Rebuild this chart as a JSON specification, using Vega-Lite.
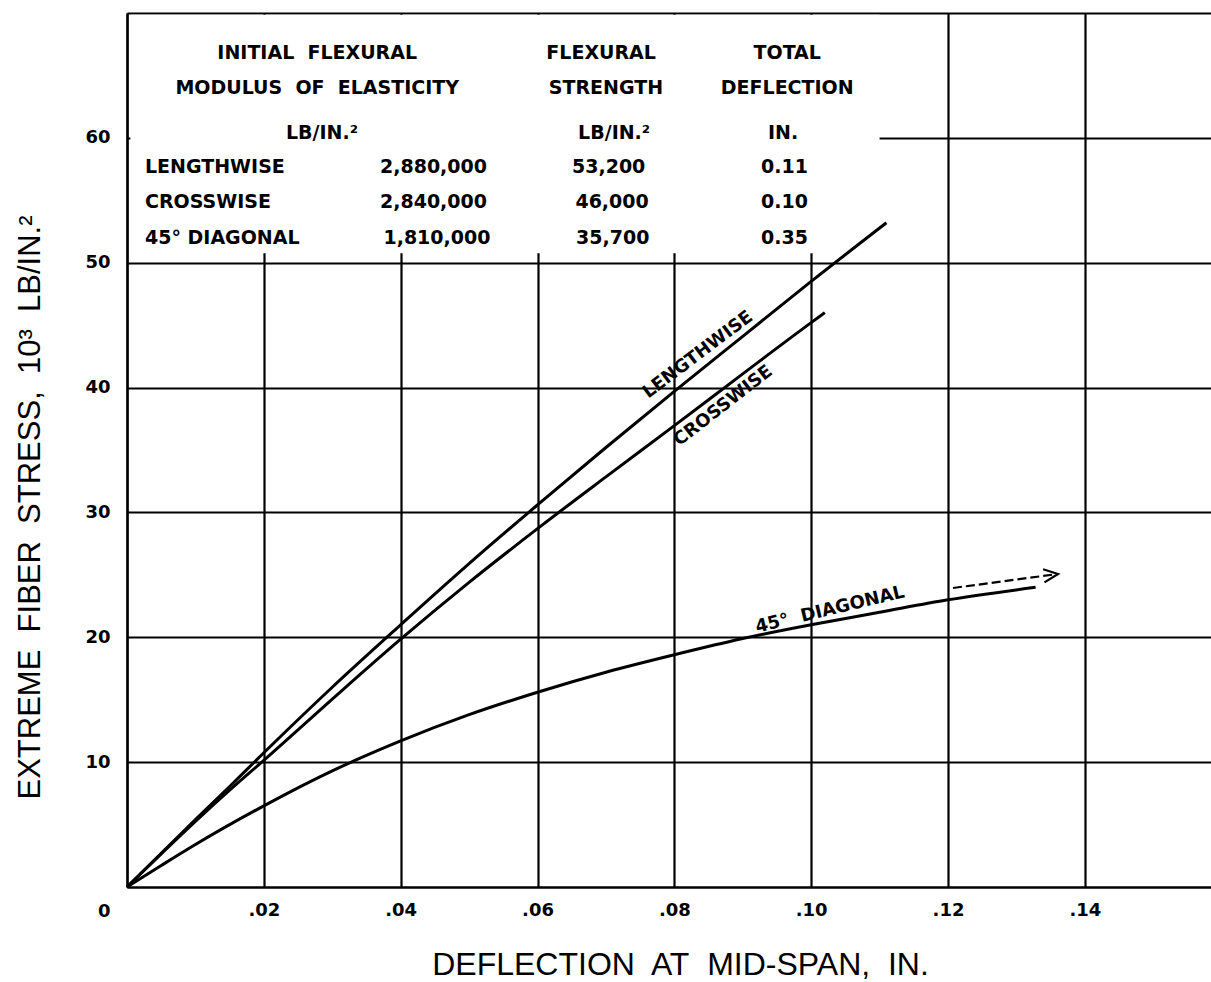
{
  "$schema": "https://vega.github.io/schema/vega-lite/v6.json",
  "autosize": "none",
  "width": 1084,
  "height": 874,
  "padding": {"left": 127, "top": 13, "right": 0, "bottom": 95},
  "background": "white",
  "config": {"view": {"stroke": null}},
  "datasets": {
    "mask": [{"x": 0.0005, "x2": 0.1100, "y": 50.75, "y2": 69.85}],
    "curves": [
      {"series": "Lengthwise", "x": 0, "y": 0},
      {"series": "Lengthwise", "x": 0.005, "y": 2.7},
      {"series": "Lengthwise", "x": 0.01, "y": 5.4},
      {"series": "Lengthwise", "x": 0.015, "y": 8.05},
      {"series": "Lengthwise", "x": 0.02, "y": 10.75},
      {"series": "Lengthwise", "x": 0.03, "y": 16.0},
      {"series": "Lengthwise", "x": 0.04, "y": 21.0},
      {"series": "Lengthwise", "x": 0.05, "y": 25.9},
      {"series": "Lengthwise", "x": 0.06, "y": 30.6},
      {"series": "Lengthwise", "x": 0.07, "y": 35.2},
      {"series": "Lengthwise", "x": 0.08, "y": 39.7},
      {"series": "Lengthwise", "x": 0.09, "y": 44.1},
      {"series": "Lengthwise", "x": 0.10, "y": 48.5},
      {"series": "Lengthwise", "x": 0.111, "y": 53.2},
      {"series": "Crosswise", "x": 0, "y": 0},
      {"series": "Crosswise", "x": 0.005, "y": 2.65},
      {"series": "Crosswise", "x": 0.01, "y": 5.25},
      {"series": "Crosswise", "x": 0.015, "y": 7.75},
      {"series": "Crosswise", "x": 0.02, "y": 10.15},
      {"series": "Crosswise", "x": 0.03, "y": 15.05},
      {"series": "Crosswise", "x": 0.04, "y": 19.85},
      {"series": "Crosswise", "x": 0.05, "y": 24.4},
      {"series": "Crosswise", "x": 0.06, "y": 28.7},
      {"series": "Crosswise", "x": 0.07, "y": 32.85},
      {"series": "Crosswise", "x": 0.08, "y": 36.95},
      {"series": "Crosswise", "x": 0.09, "y": 41.1},
      {"series": "Crosswise", "x": 0.10, "y": 45.2},
      {"series": "Crosswise", "x": 0.102, "y": 46.0},
      {"series": "45° Diagonal", "x": 0, "y": 0},
      {"series": "45° Diagonal", "x": 0.005, "y": 1.72},
      {"series": "45° Diagonal", "x": 0.01, "y": 3.4},
      {"series": "45° Diagonal", "x": 0.02, "y": 6.5},
      {"series": "45° Diagonal", "x": 0.03, "y": 9.3},
      {"series": "45° Diagonal", "x": 0.04, "y": 11.7},
      {"series": "45° Diagonal", "x": 0.05, "y": 13.8},
      {"series": "45° Diagonal", "x": 0.06, "y": 15.6},
      {"series": "45° Diagonal", "x": 0.07, "y": 17.2},
      {"series": "45° Diagonal", "x": 0.08, "y": 18.6},
      {"series": "45° Diagonal", "x": 0.09, "y": 19.9},
      {"series": "45° Diagonal", "x": 0.10, "y": 21.0},
      {"series": "45° Diagonal", "x": 0.11, "y": 22.0},
      {"series": "45° Diagonal", "x": 0.12, "y": 23.0},
      {"series": "45° Diagonal", "x": 0.1328, "y": 24.0}
    ],
    "arrowShaft": [{"x": 0.12073, "y": 23.95}, {"x": 0.13608, "y": 25.07}],
    "arrowHead": [{"k": 1, "x": 0.13390, "y": 25.45}, {"k": 2, "x": 0.13608, "y": 25.07}, {"k": 3, "x": 0.13410, "y": 24.40}],
    "tableCells": [
      {"text": "INITIAL\u00a0 FLEXURAL", "x": 0.0278, "y": 66.8},
      {"text": "MODULUS\u00a0 OF\u00a0 ELASTICITY", "x": 0.0278, "y": 64.0},
      {"text": "LB/IN.²", "x": 0.0285, "y": 60.4},
      {"text": "FLEXURAL", "x": 0.0693, "y": 66.8},
      {"text": "STRENGTH", "x": 0.0700, "y": 64.0},
      {"text": "LB/IN.²", "x": 0.0712, "y": 60.4},
      {"text": "TOTAL", "x": 0.0965, "y": 66.8},
      {"text": "DEFLECTION", "x": 0.0965, "y": 64.0},
      {"text": "IN.", "x": 0.0959, "y": 60.4},
      {"text": "2,880,000", "x": 0.0448, "y": 57.66},
      {"text": "2,840,000", "x": 0.0448, "y": 54.86},
      {"text": "1,810,000", "x": 0.0453, "y": 52.0},
      {"text": "53,200", "x": 0.0704, "y": 57.66},
      {"text": "46,000", "x": 0.0709, "y": 54.86},
      {"text": "35,700", "x": 0.0710, "y": 52.0},
      {"text": "0.11", "x": 0.0961, "y": 57.66},
      {"text": "0.10", "x": 0.0961, "y": 54.86},
      {"text": "0.35", "x": 0.0961, "y": 52.0}
    ],
    "tableRows": [
      {"text": "LENGTHWISE", "x": 0.00263, "y": 57.66},
      {"text": "CROSSWISE", "x": 0.00263, "y": 54.86},
      {"text": "45° DIAGONAL", "x": 0.00263, "y": 52.0}
    ],
    "labLength": [{"text": "LENGTHWISE", "x": 0.08346, "y": 42.61}],
    "labCross": [{"text": "CROSSWISE", "x": 0.08716, "y": 38.52}],
    "labDiag": [{"text": "45°\u00a0 DIAGONAL", "x": 0.10275, "y": 22.18}]
  },
  "layer": [
    {
      "data": {"name": "mask"},
      "mark": {"type": "rect", "fill": "white", "stroke": null},
      "encoding": {
        "x": {
          "field": "x", "type": "quantitative",
          "scale": {"domain": [0, 0.15844], "nice": false, "zero": false},
          "axis": {
            "values": [0, 0.02, 0.04, 0.06, 0.08, 0.1, 0.12, 0.14],
            "grid": true, "gridColor": "black", "gridWidth": 2.2, "gridOpacity": 1,
            "ticks": false,
            "domain": true, "domainColor": "black", "domainWidth": 2.2,
            "labelExpr": "datum.value == 0 ? '' : replace(format(datum.value, '.2f'), '0.', '.')",
            "labelFont": "DejaVu Sans", "labelFontWeight": "bold", "labelFontSize": 18,
            "labelColor": "black", "labelPadding": 14, "labelOverlap": false, "labelFlush": false,
            "title": "DEFLECTION\u00a0 AT\u00a0 MID-SPAN,\u00a0 IN.",
            "titleFont": "Liberation Sans", "titleFontSize": 32, "titleFontWeight": "normal",
            "titleColor": "black", "titleX": 553, "titleY": 77, "titleBaseline": "middle", "titleAlign": "center"
          }
        },
        "x2": {"field": "x2"},
        "y": {
          "field": "y", "type": "quantitative",
          "scale": {"domain": [0, 70], "nice": false, "zero": false},
          "axis": {
            "values": [0, 10, 20, 30, 40, 50, 60, 70],
            "grid": true, "gridColor": "black", "gridWidth": 2.2, "gridOpacity": 1,
            "ticks": false,
            "domain": true, "domainColor": "black", "domainWidth": 2.2,
            "labelExpr": "datum.value == 70 ? '' : datum.label",
            "labelOffset": {"condition": {"test": "datum.value == 0", "value": 24}, "value": 0},
            "labelFont": "DejaVu Sans", "labelFontWeight": "bold", "labelFontSize": 18,
            "labelColor": "black", "labelPadding": 17, "labelOverlap": false, "labelBound": false, "labelFlush": false,
            "title": "EXTREME\u00a0 FIBER\u00a0 STRESS,\u00a0 10³\u00a0 LB/IN.²",
            "titleFont": "Liberation Sans", "titleFontSize": 31, "titleFontWeight": "normal",
            "titleColor": "black", "titleAngle": -90, "titleX": -97, "titleY": 494,
            "titleBaseline": "middle", "titleAlign": "center"
          }
        },
        "y2": {"field": "y2"}
      }
    },
    {
      "data": {"name": "curves"},
      "mark": {"type": "line", "stroke": "black", "strokeWidth": 3, "interpolate": "monotone"},
      "encoding": {
        "x": {"field": "x", "type": "quantitative"},
        "y": {"field": "y", "type": "quantitative"},
        "detail": {"field": "series"}
      }
    },
    {
      "data": {"name": "arrowShaft"},
      "mark": {"type": "line", "stroke": "black", "strokeWidth": 2.2, "strokeDash": [9, 4]},
      "encoding": {
        "x": {"field": "x", "type": "quantitative"},
        "y": {"field": "y", "type": "quantitative"}
      }
    },
    {
      "data": {"name": "arrowHead"},
      "mark": {"type": "line", "stroke": "black", "strokeWidth": 2.2},
      "encoding": {
        "x": {"field": "x", "type": "quantitative"},
        "y": {"field": "y", "type": "quantitative"},
        "order": {"field": "k", "type": "quantitative"}
      }
    },
    {
      "data": {"name": "tableCells"},
      "mark": {"type": "text", "align": "center", "baseline": "middle", "font": "DejaVu Sans", "fontWeight": "bold", "fontSize": 19, "color": "black"},
      "encoding": {
        "x": {"field": "x", "type": "quantitative"},
        "y": {"field": "y", "type": "quantitative"},
        "text": {"field": "text"}
      }
    },
    {
      "data": {"name": "tableRows"},
      "mark": {"type": "text", "align": "left", "baseline": "middle", "font": "DejaVu Sans", "fontWeight": "bold", "fontSize": 19, "color": "black"},
      "encoding": {
        "x": {"field": "x", "type": "quantitative"},
        "y": {"field": "y", "type": "quantitative"},
        "text": {"field": "text"}
      }
    },
    {
      "data": {"name": "labLength"},
      "mark": {"type": "text", "align": "center", "baseline": "middle", "angle": -37, "font": "DejaVu Sans", "fontWeight": "bold", "fontSize": 18, "color": "black"},
      "encoding": {
        "x": {"field": "x", "type": "quantitative"},
        "y": {"field": "y", "type": "quantitative"},
        "text": {"field": "text"}
      }
    },
    {
      "data": {"name": "labCross"},
      "mark": {"type": "text", "align": "center", "baseline": "middle", "angle": -37.8, "font": "DejaVu Sans", "fontWeight": "bold", "fontSize": 18, "color": "black"},
      "encoding": {
        "x": {"field": "x", "type": "quantitative"},
        "y": {"field": "y", "type": "quantitative"},
        "text": {"field": "text"}
      }
    },
    {
      "data": {"name": "labDiag"},
      "mark": {"type": "text", "align": "center", "baseline": "middle", "angle": -13.5, "font": "DejaVu Sans", "fontWeight": "bold", "fontSize": 18, "color": "black"},
      "encoding": {
        "x": {"field": "x", "type": "quantitative"},
        "y": {"field": "y", "type": "quantitative"},
        "text": {"field": "text"}
      }
    }
  ]
}
